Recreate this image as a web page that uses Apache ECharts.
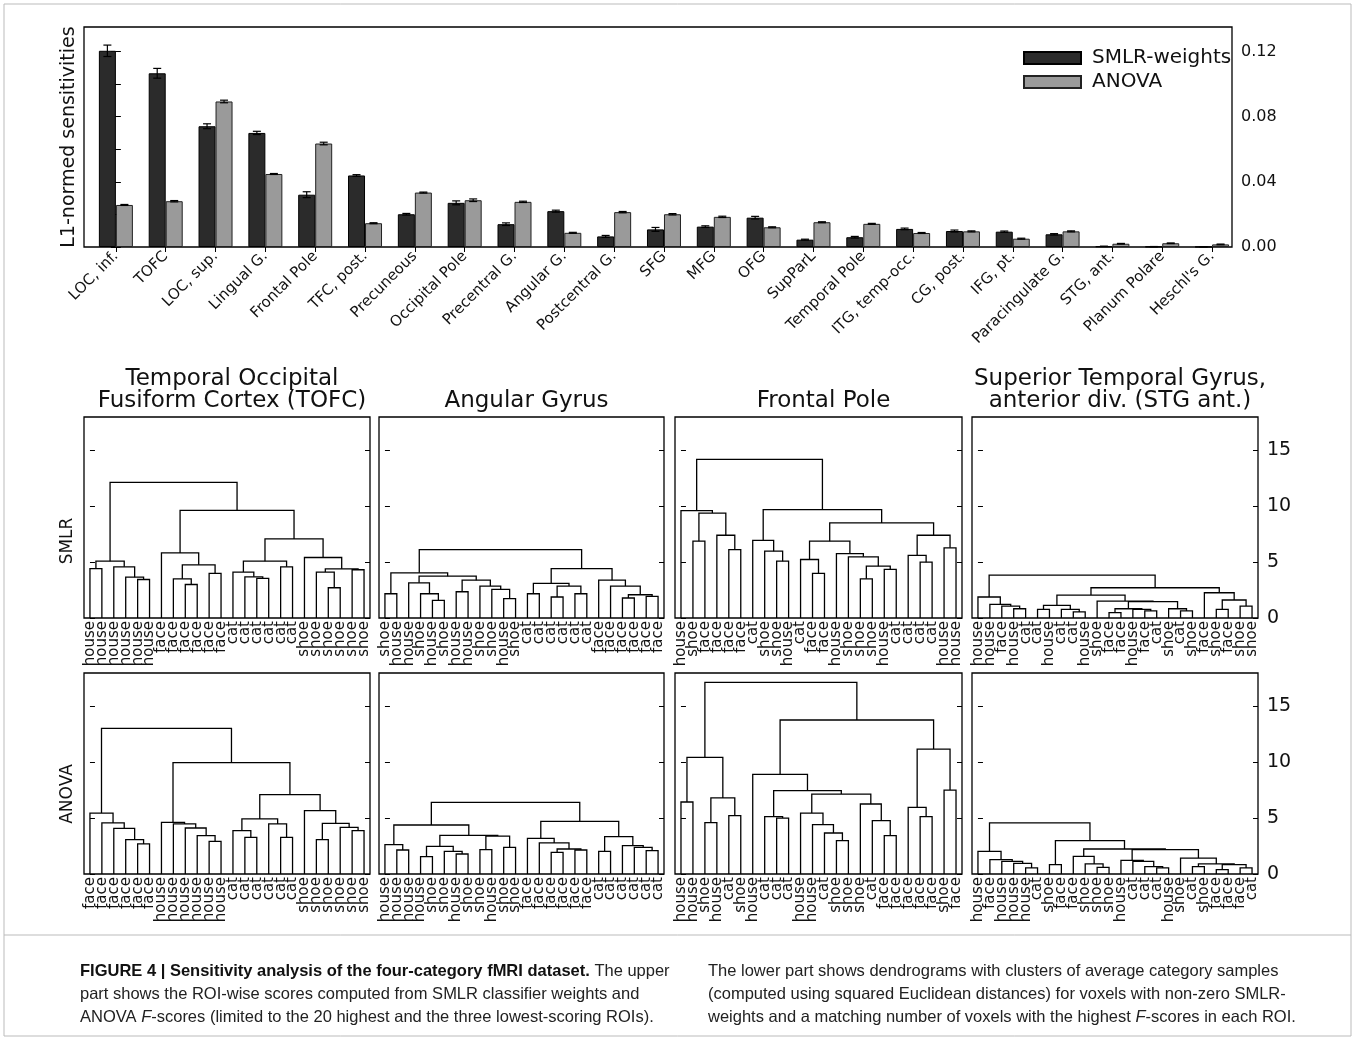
<!DOCTYPE html>
<html>
<head>
<meta charset="utf-8">
<script src="https://cdn.jsdelivr.net/npm/echarts@6/dist/echarts.min.js"></script>
<style>
html,body{margin:0;padding:0;background:#fff}
#main{width:1356px;height:1041px}
</style>
</head>
<body>
<div id="main"></div>
<script>
// ROI-wise sensitivities (top panel)
var rois = ['LOC, inf.','TOFC','LOC, sup.','Lingual G.','Frontal Pole','TFC, post.','Precuneous','Occipital Pole',
  'Precentral G.','Angular G.','Postcentral G.','SFG','MFG','OFG','SupParL','Temporal Pole','ITG, temp-occ.',
  'CG, post.','IFG, pt.','Paracingulate G.','STG, ant.','Planum Polare',"Heschl's G."];
var smlr = [0.1204,0.1066,0.0741,0.0700,0.0321,0.0439,0.0201,0.0271,0.0140,0.0220,0.0065,0.0108,
  0.0125,0.0180,0.0045,0.0060,0.0111,0.0098,0.0094,0.0078,0.0004,0.0002,0.0001];
var smlrErr = [0.0035,0.0030,0.0015,0.0010,0.0018,0.0005,0.0005,0.0012,0.0008,0.0006,0.0006,0.0012,
  0.0005,0.0008,0.0003,0.0005,0.0005,0.0006,0.0004,0.0004,0.0001,0.0001,0.0001];
var anova = [0.0258,0.0281,0.0893,0.0448,0.0635,0.0146,0.0334,0.0287,0.0277,0.0087,0.0214,0.0201,
  0.0185,0.0121,0.0152,0.0142,0.0086,0.0096,0.0051,0.0096,0.0020,0.0023,0.0016];
var anovaErr = [0.0003,0.0004,0.0008,0.0003,0.0008,0.0003,0.0003,0.0008,0.0004,0.0003,0.0004,0.0004,
  0.0004,0.0003,0.0003,0.0003,0.0003,0.0003,0.0003,0.0003,0.0002,0.0002,0.0002];
var sensTicks = [0,0.02,0.04,0.06,0.08,0.10,0.12];
var sensLabels = [0,0.04,0.08,0.12];
var distTicks = [0,5,10,15];

// dendrograms: leaf labels + linkage rows [a, b, height], new node = 24 + row
var tofcSmlrLeaves = ['house','house','house','house','house','house','face','face','face','face','face','face',
  'cat','cat','cat','cat','cat','cat','shoe','shoe','shoe','shoe','shoe','shoe'];
var tofcSmlrLinks = [[0,1,4.43],[4,5,3.45],[3,25,3.66],[2,26,4.58],[24,27,5.09],[8,9,3.0],[7,29,3.51],
  [10,11,3.99],[30,31,4.76],[6,32,5.83],[14,15,3.54],[13,34,3.69],[12,35,4.11],[16,17,4.58],[36,37,5.09],
  [20,21,2.71],[19,39,4.11],[22,23,4.32],[40,41,4.40],[18,42,5.42],[38,43,7.08],[33,44,9.64],[28,45,12.14]];

var angSmlrLeaves = ['shoe','house','house','shoe','house','shoe','house','house','shoe','shoe','house','shoe',
  'cat','cat','cat','cat','cat','cat','face','face','face','face','face','face'];
var angSmlrLinks = [[0,1,2.17],[4,5,1.58],[3,25,2.17],[2,26,3.15],[6,7,2.35],[10,11,1.73],[9,29,2.56],
  [8,30,2.86],[28,31,3.39],[27,32,3.75],[24,33,4.05],[12,13,2.17],[14,15,1.88],[16,17,2.17],[36,37,2.86],
  [35,38,3.10],[20,21,1.79],[22,23,1.93],[40,41,2.08],[19,42,2.86],[18,43,3.39],[39,44,4.43],[34,45,6.13]];

var fpSmlrLeaves = ['house','shoe','face','face','face','face','cat','shoe','shoe','house','cat','face',
  'face','house','shoe','shoe','shoe','house','cat','cat','cat','cat','house','house'];
var fpSmlrLinks = [[1,2,6.88],[4,5,6.13],[3,25,7.41],[24,26,9.4],[0,27,9.62],[8,9,5.09],[7,29,5.98],
  [6,30,6.96],[11,12,3.99],[10,32,5.24],[15,16,3.51],[17,18,4.35],[34,35,4.64],[14,36,5.48],[13,37,5.77],
  [33,38,6.88],[20,21,5.0],[19,40,5.6],[22,23,6.28],[41,42,7.41],[39,43,8.51],[31,44,9.70],[28,45,14.2]];

var stgSmlrLeaves = ['house','house','face','house','cat','cat','house','cat','cat','house','shoe','face',
  'face','house','face','cat','shoe','cat','shoe','face','shoe','face','shoe','shoe'];
var stgSmlrLinks = [[3,4,0.83],[2,24,1.07],[1,25,1.22],[0,26,1.88],[5,6,0.77],[8,9,0.54],[7,29,0.77],
  [28,30,1.13],[11,12,0.48],[14,15,0.63],[13,33,0.77],[32,34,0.83],[17,18,0.63],[16,36,0.83],[35,37,1.46],
  [10,38,1.52],[31,39,2.05],[20,21,0.77],[22,23,1.07],[41,42,1.61],[19,43,2.26],[40,44,2.71],[27,45,3.84]];

var tofcAnovaLeaves = ['face','face','face','face','face','face','house','house','house','house','house','house',
  'cat','cat','cat','cat','cat','cat','shoe','shoe','shoe','shoe','shoe','shoe'];
var tofcAnovaLinks = [[4,5,2.69],[3,24,3.07],[2,25,4.09],[1,26,4.57],[0,27,5.46],[10,11,2.93],[9,29,3.43],
  [8,30,4.12],[7,31,4.48],[6,32,4.63],[13,14,3.28],[12,34,3.88],[16,17,3.28],[15,36,4.48],[35,37,4.93],
  [19,20,3.07],[22,23,3.88],[21,40,4.18],[39,41,4.54],[18,42,5.67],[38,43,7.1],[33,44,9.97],[28,45,13.04]];

var angAnovaLeaves = ['house','house','house','house','shoe','shoe','house','shoe','shoe','house','shoe','shoe',
  'face','face','face','face','face','face','cat','cat','cat','cat','cat','cat'];
var angAnovaLinks = [[1,2,2.15],[0,24,2.63],[3,4,1.55],[6,7,1.79],[5,27,2.03],[26,28,2.48],[8,9,2.18],
  [10,11,2.39],[30,31,3.40],[29,32,3.46],[25,33,4.39],[14,15,1.94],[16,17,2.15],[35,36,2.24],[13,37,2.78],
  [12,38,3.19],[18,19,2.03],[22,23,2.09],[21,41,2.39],[20,42,2.54],[40,43,3.34],[39,44,4.72],[34,45,6.42]];

var fpAnovaLeaves = ['house','house','shoe','house','cat','shoe','house','cat','cat','cat','house','house',
  'cat','shoe','shoe','shoe','cat','face','face','face','face','face','shoe','face'];
var fpAnovaLinks = [[0,1,6.45],[2,3,4.6],[4,5,5.22],[25,26,6.81],[24,27,10.45],[8,9,5.01],[7,29,5.13],
  [13,14,2.99],[12,31,3.67],[11,32,4.42],[10,33,5.46],[17,18,3.43],[16,35,4.78],[15,36,6.27],[34,37,7.16],
  [30,38,7.46],[6,39,8.93],[20,21,5.13],[19,41,5.97],[22,23,7.52],[42,43,11.19],[40,44,13.79],[28,45,17.16]];

var stgAnovaLeaves = ['house','face','house','house','house','cat','shoe','face','face','shoe','shoe','shoe',
  'house','cat','cat','cat','house','shoe','cat','shoe','face','face','face','cat'];
var stgAnovaLinks = [[4,5,0.54],[3,24,0.96],[2,25,1.13],[1,26,1.28],[0,27,2.03],[6,7,0.84],[10,11,0.6],
  [9,30,0.9],[8,31,1.58],[15,16,0.54],[14,33,0.66],[13,34,1.13],[12,35,1.22],[18,19,0.66],[20,21,0.39],
  [22,23,0.54],[38,39,0.84],[37,40,0.9],[17,41,1.43],[36,42,2.18],[32,43,2.24],[29,44,2.99],[28,45,4.57]];

var colTitles = ['Temporal Occipital\nFusiform Cortex (TOFC)','Angular Gyrus','Frontal Pole',
  'Superior Temporal Gyrus,\nanterior div. (STG ant.)'];
var rowNames = ['SMLR','ANOVA'];

var dendros = [
  [tofcSmlrLeaves, tofcSmlrLinks], [angSmlrLeaves, angSmlrLinks], [fpSmlrLeaves, fpSmlrLinks], [stgSmlrLeaves, stgSmlrLinks],
  [tofcAnovaLeaves, tofcAnovaLinks], [angAnovaLeaves, angAnovaLinks], [fpAnovaLeaves, fpAnovaLinks], [stgAnovaLeaves, stgAnovaLinks]
];
var colLeft = [84, 379, 675, 972], colWidth = [286, 285, 287, 286];
var rowTop = [417, 673], panelHeight = 201, rowLabelY = [541, 794];

var font = 'DejaVu Sans';
var ink = '#111';

// U-shaped links in data space (leaf i sits at x = i)
function linkCoords(links, n) {
  var pos = [], hgt = [], out = [];
  for (var i = 0; i < n; i++) { pos[i] = i; hgt[i] = 0; }
  links.forEach(function (l, k) {
    var a = l[0], b = l[1], h = l[2];
    out.push({coords: [[pos[a], hgt[a]], [pos[a], h], [pos[b], h], [pos[b], hgt[b]]]});
    pos[n + k] = (pos[a] + pos[b]) / 2;
    hgt[n + k] = h;
  });
  return out;
}

var myChart = echarts.init(document.getElementById('main'));

var barW = 17;
function errorBars(offset) {
  return function (params, api) {
    var i = api.value(0), v = api.value(1), e = api.value(2);
    var top = api.coord([i, v + e]), bot = api.coord([i, v - e]);
    var x = top[0] + offset, cap = 4;
    var st = {stroke: '#000', lineWidth: 1.2};
    return {type: 'group', children: [
      {type: 'line', shape: {x1: x, y1: top[1], x2: x, y2: bot[1]}, style: st},
      {type: 'line', shape: {x1: x - cap, y1: top[1], x2: x + cap, y2: top[1]}, style: st},
      {type: 'line', shape: {x1: x - cap, y1: bot[1], x2: x + cap, y2: bot[1]}, style: st}
    ]};
  };
}

var grids = [{left: 84, top: 27, width: 1148, height: 220, show: true, borderColor: '#000', borderWidth: 1.3}];
var xAxes = [
  {gridIndex: 0, type: 'value', min: -0.64, max: 22.4, position: 'bottom',
    axisLine: {show: false}, axisTick: {show: false}, splitLine: {show: false},
    axisLabel: {customValues: rois.map(function (r, i) { return i; }), rotate: 45, margin: 7,
      fontSize: 15, fontFamily: font, color: ink,
      formatter: function (v) { return rois[Math.round(v)]; }}},
  {gridIndex: 0, type: 'value', min: -0.64, max: 22.4, position: 'top',
    axisLine: {show: false}, splitLine: {show: false}, axisLabel: {show: false},
    axisTick: {inside: true, length: 5, customValues: rois.map(function (r, i) { return i; }), lineStyle: {color: '#000'}}}
];
var yAxes = [
  {gridIndex: 0, type: 'value', min: 0, max: 0.135, position: 'left',
    axisLine: {show: false}, splitLine: {show: false}, axisLabel: {show: false},
    axisTick: {inside: true, length: 5, customValues: sensTicks, lineStyle: {color: '#000'}},
    name: 'L1-normed sensitivities', nameLocation: 'middle', nameRotate: 90, nameGap: 5,
    nameTextStyle: {fontSize: 19, fontFamily: font, color: ink}},
  {gridIndex: 0, type: 'value', min: 0, max: 0.135, position: 'right',
    axisLine: {show: false}, splitLine: {show: false},
    axisTick: {inside: true, length: 5, customValues: sensTicks, lineStyle: {color: '#000'}},
    axisLabel: {customValues: sensLabels, margin: 9, fontSize: 16, fontFamily: font, color: ink,
      formatter: function (v) { return v.toFixed(2); }}}
];
var series = [
  {name: 'SMLR-weights', type: 'bar', xAxisIndex: 0, yAxisIndex: 0, barWidth: barW, barGap: '0%',
    itemStyle: {color: '#2b2b2b', borderColor: '#000', borderWidth: 1},
    data: smlr.map(function (v, i) { return [i, v]; })},
  {name: 'ANOVA', type: 'bar', xAxisIndex: 0, yAxisIndex: 0, barWidth: barW, barGap: '0%',
    itemStyle: {color: '#9a9a9a', borderColor: '#222', borderWidth: 1},
    data: anova.map(function (v, i) { return [i, v]; })},
  {type: 'custom', xAxisIndex: 0, yAxisIndex: 0, renderItem: errorBars(-barW / 2), z: 5,
    data: smlr.map(function (v, i) { return [i, v, smlrErr[i]]; })},
  {type: 'custom', xAxisIndex: 0, yAxisIndex: 0, renderItem: errorBars(barW / 2), z: 5,
    data: anova.map(function (v, i) { return [i, v, anovaErr[i]]; })}
];

dendros.forEach(function (d, k) {
  var row = Math.floor(k / 4), col = k % 4, g = grids.length;
  grids.push({left: colLeft[col], top: rowTop[row], width: colWidth[col], height: panelHeight,
    show: true, borderColor: '#000', borderWidth: 1.3});
  var xv = xAxes.length;
  xAxes.push({gridIndex: g, type: 'value', min: -0.5, max: 23.5, show: false});
  xAxes.push({gridIndex: g, type: 'category', data: d[0], position: 'bottom',
    axisLine: {show: false}, axisTick: {show: false},
    axisLabel: {interval: 0, rotate: 90, margin: 3, fontSize: 15, fontFamily: font, color: ink}});
  var yl = yAxes.length;
  yAxes.push({gridIndex: g, type: 'value', min: 0, max: 18, position: 'left',
    axisLine: {show: false}, splitLine: {show: false}, axisLabel: {show: false},
    axisTick: {inside: true, length: 5, customValues: distTicks, lineStyle: {color: '#000'}}});
  yAxes.push({gridIndex: g, type: 'value', min: 0, max: 18, position: 'right',
    axisLine: {show: false}, splitLine: {show: false},
    axisTick: {inside: true, length: 5, customValues: distTicks, lineStyle: {color: '#000'}},
    axisLabel: {show: col === 3, customValues: distTicks, margin: 9, fontSize: 19, fontFamily: font, color: ink}});
  series.push({type: 'lines', coordinateSystem: 'cartesian2d', xAxisIndex: xv, yAxisIndex: yl,
    polyline: true, silent: true, lineStyle: {color: '#000', width: 1.3, opacity: 1},
    data: linkCoords(d[1], d[0].length)});
});

var titles = colTitles.map(function (t, i) {
  return {text: t, left: colLeft[i] + colWidth[i] / 2, top: t.indexOf('\n') > 0 ? 363 : 385, textAlign: 'center',
    textStyle: {fontSize: 23, fontWeight: 'normal', fontFamily: font, color: ink, lineHeight: 22}};
});

var rowLabels = rowNames.map(function (t, i) {
  return {type: 'text', x: 68, y: rowLabelY[i], rotation: Math.PI / 2, silent: true,
    style: {text: t, fontSize: 17, fontFamily: font, fill: ink, align: 'center', verticalAlign: 'middle'}};
});

var capRich = {
  b: {fontSize: 16.5, fontFamily: 'Liberation Sans', fontWeight: 'bold', fill: '#111', lineHeight: 23},
  r: {fontSize: 16.5, fontFamily: 'Liberation Sans', fill: '#222', lineHeight: 23},
  i: {fontSize: 16.5, fontFamily: 'Liberation Sans', fontStyle: 'italic', fill: '#222', lineHeight: 23}
};

var option = {
  animation: false,
  backgroundColor: '#fff',
  title: titles,
  legend: {data: ['SMLR-weights', 'ANOVA'], orient: 'vertical', left: 1018, top: 43, icon: 'rect',
    itemWidth: 57, itemHeight: 12, itemGap: 4,
    textStyle: {fontSize: 20, fontFamily: font, color: ink, padding: [0, 0, 0, 6]}},
  grid: grids,
  xAxis: xAxes,
  yAxis: yAxes,
  series: series,
  graphic: rowLabels.concat([
    {type: 'rect', shape: {x: 4, y: 4, width: 1347, height: 1032}, style: {fill: 'none', stroke: '#bbb', lineWidth: 1}, silent: true},
    {type: 'line', shape: {x1: 4, y1: 935, x2: 1351, y2: 935}, style: {stroke: '#bbb', lineWidth: 1}, silent: true},
    {type: 'text', left: 80, top: 963, silent: true, style: {
      text: '{b|FIGURE 4 | Sensitivity analysis of the four-category fMRI dataset.}{r| The upper}\n' +
        '{r|part shows the ROI-wise scores computed from SMLR classifier weights and}\n' +
        '{r|ANOVA }{i|F}{r|-scores (limited to the 20 highest and the three lowest-scoring ROIs).}',
      rich: capRich}},
    {type: 'text', left: 708, top: 963, silent: true, style: {
      text: '{r|The lower part shows dendrograms with clusters of average category samples}\n' +
        '{r|(computed using squared Euclidean distances) for voxels with non-zero SMLR-}\n' +
        '{r|weights and a matching number of voxels with the highest }{i|F}{r|-scores in each ROI.}',
      rich: capRich}}
  ])
};
myChart.setOption(option);
</script>
</body>
</html>
